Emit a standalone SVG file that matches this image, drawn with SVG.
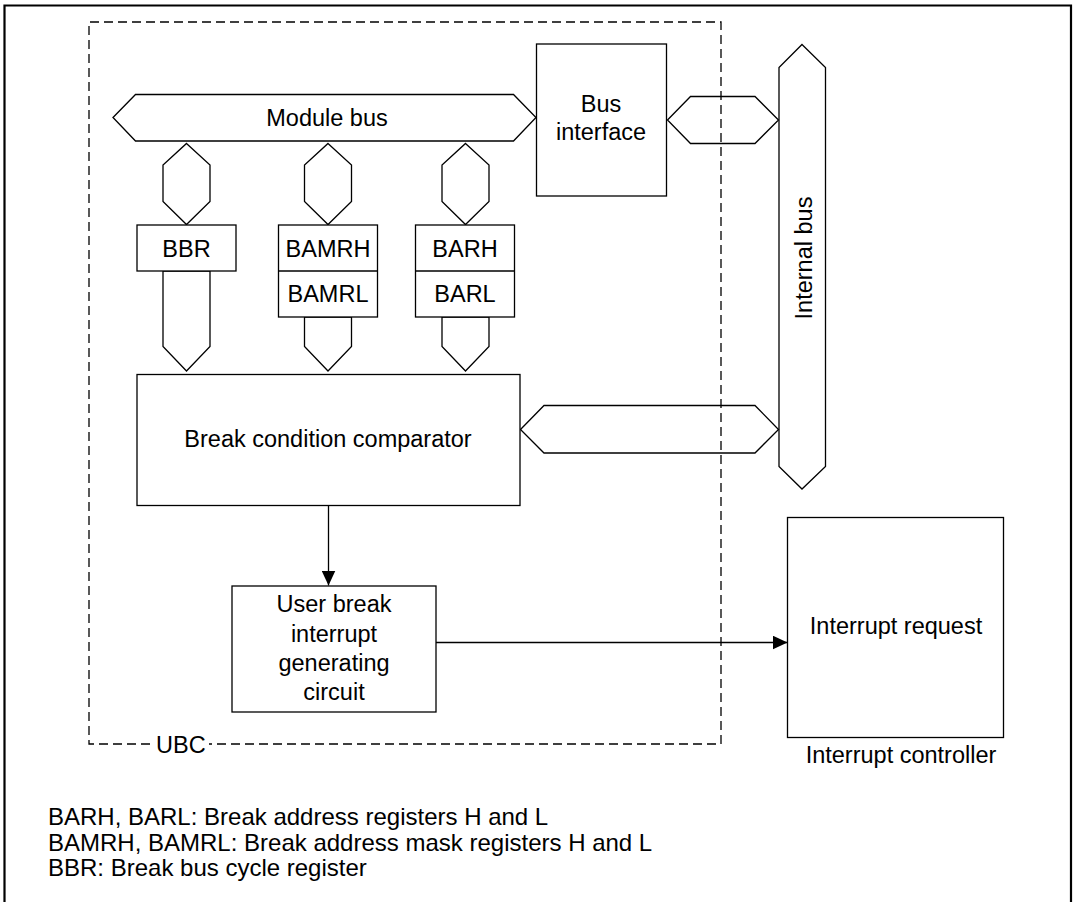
<svg xmlns="http://www.w3.org/2000/svg" width="1075" height="902" viewBox="0 0 1075 902">
<style>
.s{fill:#fff;stroke:#000;stroke-width:1.3}
.w{fill:none;stroke:#000;stroke-width:1.3}
.d{fill:none;stroke:#000;stroke-width:1.3;stroke-dasharray:9 5}
.t{font-family:"Liberation Sans",Arial,Helvetica,sans-serif;font-size:23.5px;fill:#000;text-anchor:middle}
.l{font-family:"Liberation Sans",Arial,Helvetica,sans-serif;font-size:23.5px;fill:#000;text-anchor:start}
.g{font-family:"Liberation Sans",Arial,Helvetica,sans-serif;font-size:24px;fill:#000;text-anchor:start}
</style>
<defs>
<marker id="ah" viewBox="0 0 15 14" refX="15" refY="7" markerWidth="15" markerHeight="14" markerUnits="userSpaceOnUse" orient="auto">
<path d="M0,0 L15,7 L0,14 z" fill="#000"/>
</marker>
</defs>
<rect width="1075" height="902" fill="#fff"/>
<path d="M4.5,902 V5.5 H1071 V902" fill="none" stroke="#000" stroke-width="2.2"/>

<g id="module-bus">
<polygon class="s" points="113,117.5 135.5,94.5 513.5,94.5 536,117.5 513.5,141 135.5,141"/>
<text class="t" x="327" y="126">Module bus</text>
</g>

<g id="bus-interface">
<rect class="s" x="536.5" y="44" width="130" height="152"/>
<text class="t" x="601" y="112">Bus</text>
<text class="t" x="601" y="140">interface</text>
</g>

<g id="internal-bus">
<polygon class="s" points="802,44.5 825.5,67.5 825.5,466.5 802,489 779,466.5 779,67.5"/>
<text class="t" transform="translate(811.5,258) rotate(-90)" x="0" y="0">Internal bus</text>
</g>

<g id="connectors">
<polygon class="s" points="667.5,120 690.5,96.5 755,96.5 778.5,120 755,143.5 690.5,143.5"/>
<polygon class="s" points="186.5,143.5 210,165 210,201.5 186.5,224.5 163,201.5 163,165"/>
<polygon class="s" points="328,143.5 351.5,165 351.5,201.5 328,224.5 304.5,201.5 304.5,165"/>
<polygon class="s" points="465.5,143.5 489,165 489,201.5 465.5,224.5 442,201.5 442,165"/>
<polygon class="s" points="163,271 163,346.5 186.5,371 210,346.5 210,271"/>
<polygon class="s" points="304.5,317 304.5,346.5 328,371 351.5,346.5 351.5,317"/>
<polygon class="s" points="442,317 442,346.5 465.5,371 489,346.5 489,317"/>
<polygon class="s" points="520.5,429.5 544,405.5 755,405.5 778.5,429.5 755,453 544,453"/>
<line class="w" x1="328.5" y1="505.5" x2="328.5" y2="585.5" marker-end="url(#ah)"/>
<line class="w" x1="436" y1="642.5" x2="787.5" y2="642.5" marker-end="url(#ah)"/>
</g>

<g id="bbr">
<rect class="s" x="137" y="225" width="99" height="46"/>
<text class="t" x="186.5" y="257">BBR</text>
</g>

<g id="bamr">
<rect class="s" x="278.5" y="225" width="99" height="92"/>
<line class="w" x1="278.5" y1="271" x2="377.5" y2="271"/>
<text class="t" x="328" y="257">BAMRH</text>
<text class="t" x="328" y="302">BAMRL</text>
</g>

<g id="bar">
<rect class="s" x="415.5" y="225" width="99" height="92"/>
<line class="w" x1="415.5" y1="271" x2="514.5" y2="271"/>
<text class="t" x="465" y="257">BARH</text>
<text class="t" x="465" y="302">BARL</text>
</g>

<g id="comparator">
<rect class="s" x="137" y="374.5" width="383" height="131"/>
<text class="t" x="328" y="447">Break condition comparator</text>
</g>

<g id="user-break">
<rect class="s" x="232" y="586" width="204" height="126"/>
<text class="t" x="334" y="612">User break</text>
<text class="t" x="334" y="641.5">interrupt</text>
<text class="t" x="334" y="671">generating</text>
<text class="t" x="334" y="700">circuit</text>
</g>

<g id="interrupt-controller">
<rect class="s" x="787.5" y="517.5" width="216" height="220"/>
<text class="t" x="896" y="634">Interrupt request</text>
<text class="t" x="901" y="763">Interrupt controller</text>
</g>

<g id="ubc">
<path class="d" d="M150,744 H89 V22 H721 V744 H209"/>
<text class="l" x="156" y="753">UBC</text>
</g>

<g id="legend">
<text class="g" x="48" y="825">BARH, BARL: Break address registers H and L</text>
<text class="g" x="48" y="851">BAMRH, BAMRL: Break address mask registers H and L</text>
<text class="g" x="48" y="876">BBR: Break bus cycle register</text>
</g>
</svg>
